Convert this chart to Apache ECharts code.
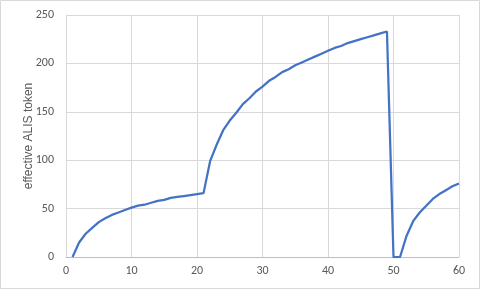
<!DOCTYPE html>
<html><head><meta charset="utf-8">
<script src="https://cdn.jsdelivr.net/npm/echarts@6/dist/echarts.min.js"></script>
<style>html,body{margin:0;padding:0;background:#fff}#c{width:480px;height:289px}</style>
</head><body><div id="c"></div>
<script>
const xValues = [1,2,3,4,5,6,7,8,9,10,11,12,13,14,15,16,17,18,19,20,21,22,23,24,25,26,27,28,29,30,31,32,33,34,35,36,37,38,39,40,41,42,43,44,45,46,47,48,49,50,51,52,53,54,55,56,57,58,59,60];
const tokenValues = [0,15,24,30,36,40,43.5,46,48.5,51,53,54,56,58,59,61,62,63,64,65,66,99,116,131,141,149,158,164,171,176,182,186,191,194,198,201,204,207,210,213,216,218,221,223,225,227,229,231,233,0,0,22,37,46,53,60,65,69,73,76];
const yAxisTitle = 'effective ALIS token';

const chart = echarts.init(document.getElementById('c'), null, {renderer:'canvas'});
const font = 'Calibri, Carlito, "Liberation Sans", sans-serif';
chart.setOption({
  animation:false,
  graphic:[{type:'rect',shape:{x:0.5,y:0.5,width:479,height:288},style:{fill:'none',stroke:'#d9d9d9',lineWidth:1}}],
  grid:{left:66,right:21,top:15,bottom:32},
  xAxis:{type:'value',min:0,max:60,interval:10,
    axisLine:{show:true,lineStyle:{color:'#bfbfbf'}},axisTick:{show:false},
    axisLabel:{color:'#595959',fontSize:12,fontFamily:font,margin:8},
    splitLine:{show:true,lineStyle:{color:'#d9d9d9'}}},
  yAxis:{type:'value',min:0,max:250,interval:50,
    name:yAxisTitle,nameLocation:'middle',nameGap:31,nameRotate:90,nameMoveOverlap:false,
    nameTextStyle:{color:'#595959',fontSize:12,fontFamily:'"Liberation Sans", sans-serif'},
    axisLine:{show:false},axisTick:{show:false},
    axisLabel:{color:'#595959',fontSize:12,fontFamily:font,margin:12},
    splitLine:{show:true,lineStyle:{color:'#d9d9d9'}}},
  series:[{type:'line',data:xValues.map((x,i)=>[x,tokenValues[i]]),showSymbol:false,
    lineStyle:{color:'#4472c4',width:2.25},itemStyle:{color:'#4472c4'}}]
});
</script></body></html>
